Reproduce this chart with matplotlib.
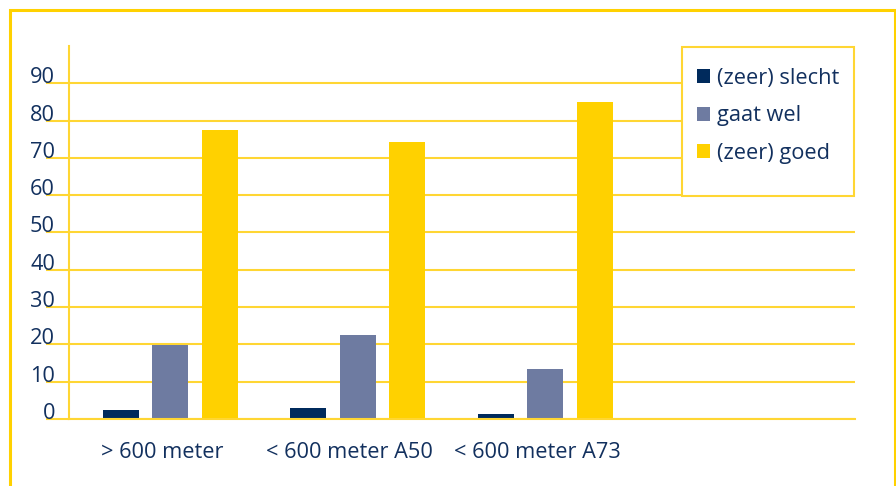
import matplotlib
matplotlib.use("Agg")
import matplotlib.pyplot as plt
from matplotlib.patches import Patch, Rectangle
import numpy as np

categories = ["> 600 meter", "< 600 meter A50", "< 600 meter A73"]
series_names = ["(zeer) slecht", "gaat wel", "(zeer) goed"]
slecht = [2.4, 2.9, 1.3]
gaat_wel = [19.8, 22.5, 13.4]
goed = [77.4, 74.2, 84.9]
yticks = [0, 10, 20, 30, 40, 50, 60, 70, 80, 90]

colors = ["#002a5c", "#6e7ba1", "#ffd100"]
grid_col = "#ffd633"
text_col = "#12305e"
FS = 15.7

plt.rcParams['font.family'] = ['Open Sans', 'DejaVu Sans']

W, H = 896, 486
fig = plt.figure(figsize=(W / 100, H / 100), dpi=100)
ax = fig.add_axes([69 / W, (H - 419) / H, (855 - 69) / W, (419 - 46) / H])

x = np.arange(len(categories))
off = 0.264
bw = 0.192
for i, (vals, name) in enumerate(zip([slecht, gaat_wel, goed], series_names)):
    ax.bar(x + (i - 1) * off, vals, width=bw, color=colors[i], label=name, zorder=3)

ax.set_xlim(-0.539, 3.653)
ax.set_ylim(0, 100)

for s in ["top", "right"]:
    ax.spines[s].set_visible(False)
ax.spines["left"].set_color(grid_col)
ax.spines["left"].set_linewidth(1.5)
ax.spines["bottom"].set_color(grid_col)
ax.spines["bottom"].set_linewidth(1.5)
ax.spines["bottom"].set_zorder(4)

ax.set_yticks(yticks)
ax.set_yticklabels([str(v) for v in yticks])
ax.yaxis.grid(True, color=grid_col, linewidth=1.5, zorder=0)
ax.tick_params(axis="y", length=16.6, width=1.5, color=grid_col, pad=-6.5,
               labelsize=FS, labelcolor=text_col)
for lab in ax.get_yticklabels():
    lab.set_verticalalignment("baseline")

ax.set_xticks(x - 0.043)
ax.set_xticklabels(categories)
ax.tick_params(axis="x", length=0, pad=16.5, labelsize=FS, labelcolor=text_col)

# legend box (opaque, white)
ax.add_patch(Rectangle(((682 - 69) / 786, (419 - 196) / 373),
                       (854 - 682) / 786, (196 - 47) / 373,
                       transform=ax.transAxes, facecolor="white", edgecolor=grid_col,
                       linewidth=1.5, clip_on=False, zorder=5))
handles = [Patch(facecolor=c, edgecolor="none") for c in colors]
leg = ax.legend(handles, series_names, loc="upper left", frameon=False,
                bbox_to_anchor=((697 - 69) / 786, (419 - 68) / 373),
                borderpad=0, borderaxespad=0, fontsize=FS,
                handlelength=0.6, handleheight=0.6, handletextpad=0.33,
                labelspacing=0.75, labelcolor=text_col)
leg.set_zorder(6)

# outer frame
fig.patches.append(Rectangle((9.5 / W, -0.02), (895 - 9.5) / W, (H - 10.5) / H + 0.02,
                             transform=fig.transFigure, fill=False,
                             edgecolor="#ffd100", linewidth=2.2, clip_on=False))

fig.savefig("out.png", dpi=100)
